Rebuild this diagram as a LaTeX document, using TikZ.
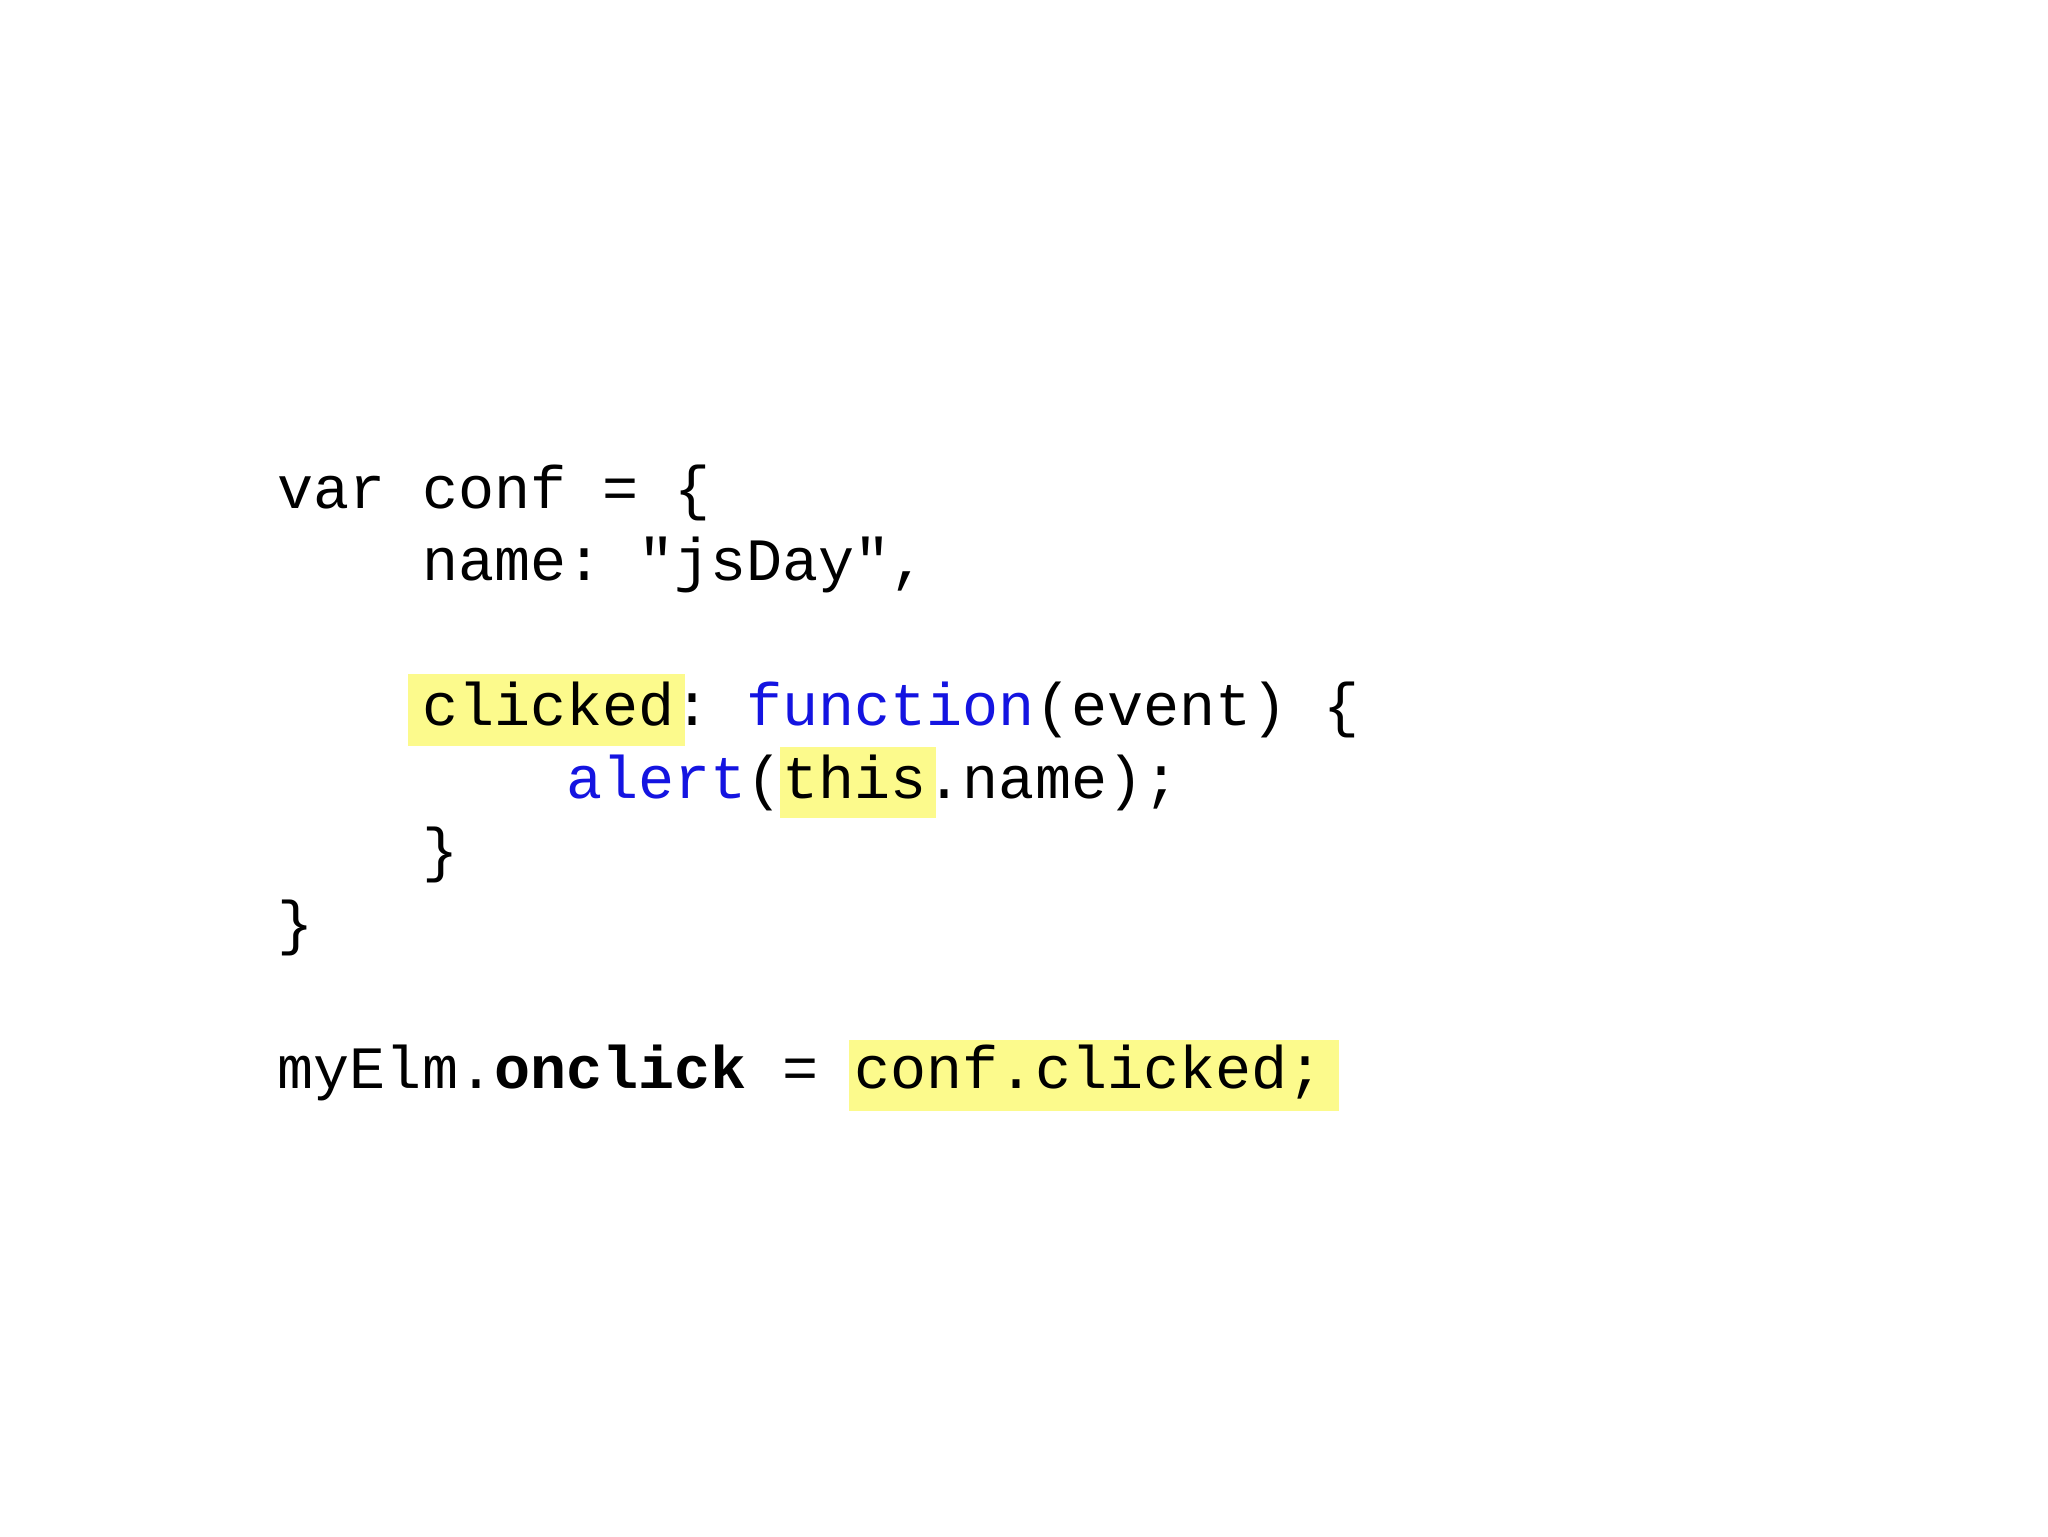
\documentclass[tikz,border=0pt]{standalone}
\usepackage{fontspec}
\setmonofont{Liberation Mono}
\definecolor{hl}{RGB}{252,250,140}
\definecolor{kw}{RGB}{20,20,225}
\begin{document}
\begin{tikzpicture}[x=0.013196cm,y=-0.013196cm,
  code/.style={anchor=base west,inner sep=0pt,font=\fontsize{17.1}{20}\selectfont\ttfamily}]
\useasboundingbox (0,0) rectangle (1552,1164);
\fill[white] (0,0) rectangle (1552,1164);
\fill[hl] (309,511) rectangle (519,565);
\fill[hl] (591,566) rectangle (709,620);
\fill[hl] (643,788) rectangle (1015,842);
\node[code] (l1) at (210,385) {var conf = \{};
\node[code] (l2) at (210,440) {\ \ \ \ name: "jsDay",};
\node[code] (l4) at (210,550) {\ \ \ \ clicked: \textcolor{kw}{function}(event) \{};
\node[code] (l5) at (210,605) {\ \ \ \ \ \ \ \ \textcolor{kw}{alert}(this.name);};
\node[code] (l6) at (210,660) {\ \ \ \ \}};
\node[code] (l7) at (210,715) {\}};
\node[code] (l9) at (210,825) {myElm.\textbf{onclick} = conf.clicked;};
\end{tikzpicture}
\end{document}
